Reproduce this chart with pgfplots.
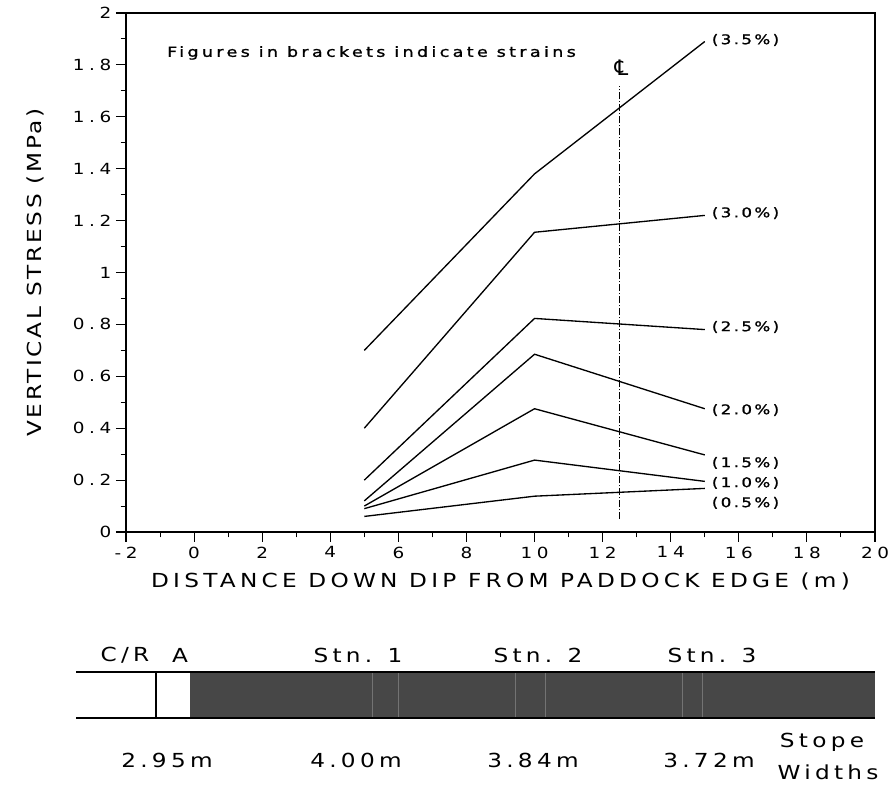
\documentclass[border=0pt]{standalone}
\usepackage{fontspec}
\setmainfont{DejaVu Sans}
\newfontfamily\pf{DejaVu Sans}[FakeStretch=1.2, LetterSpace=22]
\newfontfamily\pfy{DejaVu Sans}[FakeStretch=1.2, LetterSpace=14]
\newfontfamily\pft{DejaVu Sans}[FakeStretch=1.2, LetterSpace=30]
\newfontfamily\pfb{DejaVu Sans}[FakeStretch=1.25, FakeBold=1.2, LetterSpace=18]
\newfontfamily\pfc{DejaVu Sans}[FakeStretch=1.25, FakeBold=1.2, LetterSpace=24]
\usepackage{pgfplots}
\pgfplotsset{compat=1.18}
\begin{document}
\begin{tikzpicture}
\useasboundingbox (0,0) rectangle (666.75pt,591pt);
\begin{axis}[
  at={(94.5pt,192pt)}, anchor=south west,
  scale only axis, width=561.75pt, height=389.25pt,
  xmin=-2, xmax=20, ymin=0, ymax=2,
  xtick={-2,0,2,4,6,8,10,12,14,16,18,20},
  ytick={0,0.2,0.4,0.6,0.8,1,1.2,1.4,1.6,1.8,2},
  yticklabels={0,0.2,0.4,0.6,0.8,1,1.2,1.4,1.6,1.8,2},
  xticklabels={-2,0,2,4,6,8,10,12,14,16,18,20},
  minor x tick num=1, minor y tick num=1,
  tick align=outside, xtick pos=bottom, ytick pos=left,
  major tick length=7.5pt, minor tick length=4pt,
  every tick/.style={black, line width=0.8pt},
  axis line style={line width=1pt},
  ticklabel style={font=\pft\fontsize{11.5}{13}\selectfont},
  /pgf/number format/assume math mode=true,
  ylabel={VERTICAL STRESS (MPa)},
  ylabel style={at={(axis description cs:-0.121,0.5)}, anchor=center, font=\pfy\fontsize{14.5}{16}\selectfont},
  xlabel={DISTANCE DOWN DIP FROM PADDOCK EDGE (m)},
  xlabel style={at={(axis description cs:0.5,-0.096)}, anchor=center, font=\pf\fontsize{14.5}{16}\selectfont},
  clip=false,
  sl/.style={black, line width=1pt, no markers, solid},
]
% 3.5%
\addplot[sl] coordinates {(5,0.70) (10,1.38) (15,1.89)};
% 3.0%
\addplot[sl] coordinates {(5,0.40) (10,1.155) (15,1.22)};
% 2.5%
\addplot[sl] coordinates {(5,0.20) (10,0.823) (15,0.78)};
% 2.0%
\addplot[sl] coordinates {(5,0.12) (10,0.685) (15,0.475)};
% 1.5%
\addplot[sl] coordinates {(5,0.10) (10,0.475) (15,0.297)};
% 1.0%
\addplot[sl] coordinates {(5,0.09) (10,0.277) (15,0.195)};
% 0.5%
\addplot[sl] coordinates {(5,0.06) (10,0.138) (15,0.168)};
% centre line
\addplot[black, no markers, line width=0.8pt, dash pattern=on 5pt off 1.5pt on 1pt off 1.5pt] coordinates {(12.5,0.05) (12.5,1.72)};
\node[font=\fontsize{16}{17}\selectfont] at (axis cs:12.55,1.79) {℄};
\node[anchor=west, font=\pfc\fontsize{10.5}{11}\selectfont, inner sep=0pt] at (axis cs:-0.8,1.846) {Figures in brackets indicate strains};
\begin{scope}[every node/.style={anchor=west, font=\pfb\fontsize{10}{11}\selectfont, inner sep=0pt}]
\node at (axis cs:15.2,1.896) {(3.5\%)};
\node at (axis cs:15.2,1.229) {(3.0\%)};
\node at (axis cs:15.2,0.79) {(2.5\%)};
\node at (axis cs:15.2,0.47) {(2.0\%)};
\node at (axis cs:15.2,0.266) {(1.5\%)};
\node at (axis cs:15.2,0.189) {(1.0\%)};
\node at (axis cs:15.2,0.112) {(0.5\%)};
\end{scope}
\end{axis}
\begin{scope}[shift={(0pt,591pt)}, x=0.75pt, y=-0.75pt]
\fill[black!72] (190,672) rectangle (875,718);
\foreach \xx in {372,398,515,545,682,702} \draw[black!55, line width=0.6pt] (\xx,673) -- (\xx,717);
\draw[line width=1pt] (76,672) -- (875,672);
\draw[line width=1pt] (76,718) -- (875,718);
\draw[line width=0.9pt] (156,672) -- (156,718);
\begin{scope}[every node/.style={font=\pf\fontsize{14.5}{16}\selectfont, anchor=center}]
\node at (125,655) {C/R};
\node at (180,655) {A};
\node at (358,655) {Stn. 1};
\node at (538,655) {Stn. 2};
\node at (712,655) {Stn. 3};
\node at (167,760) {2.95m};
\node at (356,760) {4.00m};
\node at (533,760) {3.84m};
\node at (709,760) {3.72m};
\node at (822,742) {Stope};
\node at (828,772) {Widths};
\end{scope}
\end{scope}
\end{tikzpicture}
\end{document}
